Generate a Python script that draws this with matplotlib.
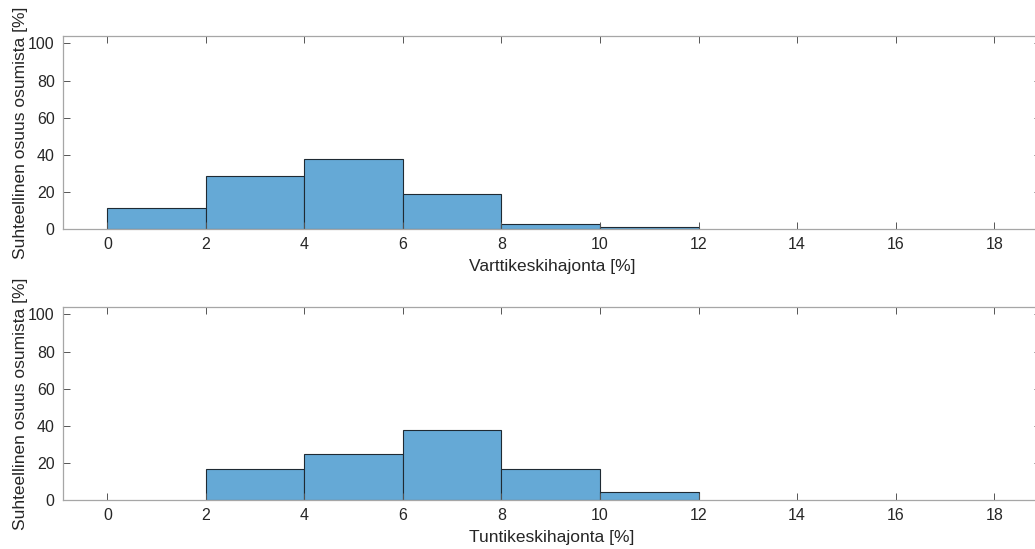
import numpy as np
import matplotlib
matplotlib.use("Agg")
import matplotlib.pyplot as plt

plt.rcParams['font.family'] = ['Liberation Sans', 'DejaVu Sans']

# Bin edges (percent) and relative share of hits per bin (percent)
bin_edges = [0, 2, 4, 6, 8, 10, 12]
quarter_share = [11.5, 28.4, 37.6, 18.9, 2.9, 1.0]
hour_share = [0.0, 16.7, 25.0, 37.5, 16.7, 4.2]

xticks = [0, 2, 4, 6, 8, 10, 12, 14, 16, 18]
yticks = [0, 20, 40, 60, 80, 100]
ylabel = "Suhteellinen osuus osumista [%]"
xlabels = ["Varttikeskihajonta [%]", "Tuntikeskihajonta [%]"]

face = "#65a9d6"
edge = "#1f2a33"
spine_col = "#a6a6a6"
text_col = "#262626"

fig = plt.figure(figsize=(10.35, 5.49), dpi=100)
W, H = 1035, 549
left = 63 / W
width = 978 / W
ax_h = 193 / H
axes = [fig.add_axes([left, 1 - 229 / H, width, ax_h]),
        fig.add_axes([left, 1 - 500 / H, width, ax_h])]

for ax, share, xl in zip(axes, [quarter_share, hour_share], xlabels):
    lefts = np.array(bin_edges[:-1])
    widths = np.diff(bin_edges)
    vals = np.array(share)
    mask = vals > 0
    ax.bar(lefts[mask], vals[mask], width=widths[mask], align='edge',
           color=face, edgecolor=edge, linewidth=0.8)
    ax.set_xlim(-0.9, 18.95)
    ax.set_ylim(0, 104)
    ax.set_xticks(xticks)
    ax.set_yticks(yticks)
    ax.tick_params(direction='in', length=5, width=0.7, colors='#555555',
                   labelcolor=text_col, labelsize=11.5, top=True, right=True,
                   pad=6)
    for s in ax.spines.values():
        s.set_color(spine_col)
        s.set_linewidth(0.9)
    ax.set_xlabel(xl, fontsize=12.5, color=text_col)
    ax.xaxis.set_label_coords(0.5, -0.155)
    ax.set_ylabel(ylabel, fontsize=12.5, color=text_col)
    ax.yaxis.set_label_coords(-0.036, 0.5)

fig.savefig("out.png", dpi=100, facecolor="white")
